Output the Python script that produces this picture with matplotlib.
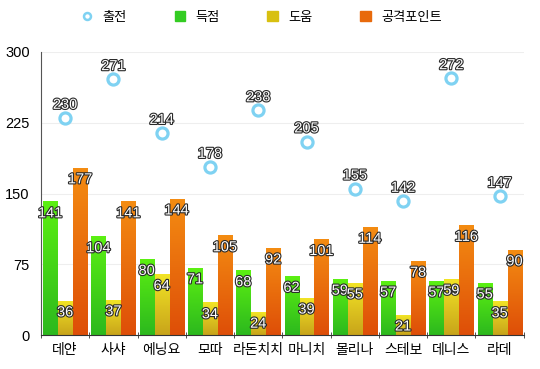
import numpy as np
import matplotlib
matplotlib.use("Agg")
import matplotlib.pyplot as plt
import matplotlib.patheffects as pe
from matplotlib.colors import LinearSegmentedColormap
from matplotlib.lines import Line2D
from matplotlib.patches import Patch

plt.rcParams['font.family'] = ['Liberation Sans', 'Noto Sans CJK KR']

# %% data
players = ["데얀", "사샤", "에닝요", "모따", "라돈치치", "마니치", "몰리나", "스테보", "데니스", "라데"]
games = [230, 271, 214, 178, 238, 205, 155, 142, 272, 147]
goals = [141, 104, 80, 71, 68, 62, 59, 57, 57, 55]
assists = [36, 37, 64, 34, 24, 39, 55, 21, 59, 35]
points = [177, 141, 144, 105, 92, 101, 114, 78, 116, 90]

series = [("득점", goals, "#2cb81e", "#5cf012", "#33cc22"),
          ("도움", assists, "#c8a41a", "#f2e426", "#d8c010"),
          ("공격포인트", points, "#de4e08", "#f48c12", "#e86a0c")]

fig = plt.figure(figsize=(5.4, 3.69), dpi=100)
ax = fig.add_axes([0.0759, 0.0921, 0.894, 0.767])

x = np.arange(len(players))
bw = 0.29
offsets = [-0.31, 0.0, 0.31]

outline = [pe.withStroke(linewidth=1.6, foreground="#2a2a2a")]

grad = np.linspace(0, 1, 256).reshape(-1, 1)
for (name, vals, c_bot, c_top, _), off in zip(series, offsets):
    cmap = LinearSegmentedColormap.from_list(name, [c_bot, c_top])
    for xi, v in zip(x, vals):
        x0 = xi + off - bw / 2
        ax.imshow(grad, cmap=cmap, origin="lower", aspect="auto",
                  extent=(x0, x0 + bw, 0, v), zorder=2, interpolation="nearest")
        ax.text(x0 + bw / 2, v - 12, str(v), ha="center", va="center",
                fontsize=10.5, color="white", zorder=5, path_effects=outline)

ax.plot(x, games, linestyle="none", marker="o", markersize=8,
        markerfacecolor="white", markeredgecolor="#7fd2f2", markeredgewidth=2.3, zorder=4)
for xi, g in zip(x, games):
    ax.text(xi, g + 14, str(g), ha="center", va="center", fontsize=10.5,
            color="white", zorder=5, path_effects=outline)

ax.set_xlim(-0.5, len(players) - 0.5)
ax.set_ylim(0, 300)
ax.set_yticks([0, 75, 150, 225, 300])
ax.yaxis.grid(True, color="#eeeeee", linewidth=0.8)
ax.set_axisbelow(True)
ax.tick_params(axis="y", length=0, labelsize=10.5, pad=8)

ax.set_xticks(x)
ax.set_xticklabels(players, fontsize=10)
ax.set_xticks(np.arange(len(players) + 1) - 0.5, minor=True)
ax.tick_params(axis="x", which="major", length=0, pad=6)
ax.tick_params(axis="x", which="minor", length=4, direction="inout", color="#333333")

for s in ["top", "right"]:
    ax.spines[s].set_visible(False)
ax.spines["left"].set_color("#555555")
ax.spines["bottom"].set_color("#333333")

handles = [Line2D([], [], linestyle="none", marker="o", markersize=5,
                  markerfacecolor="white", markeredgecolor="#7fd2f2", markeredgewidth=1.8),
           Patch(color=series[0][4]), Patch(color=series[1][4]), Patch(color=series[2][4])]
fig.legend(handles, ["출전", "득점", "도움", "공격포인트"], loc="center",
           bbox_to_anchor=(0.485, 0.952), ncol=4, frameon=False, fontsize=9.5,
           handlelength=0.8, handleheight=0.8, columnspacing=3.6, handletextpad=0.8)

fig.savefig("out.png", dpi=100)
